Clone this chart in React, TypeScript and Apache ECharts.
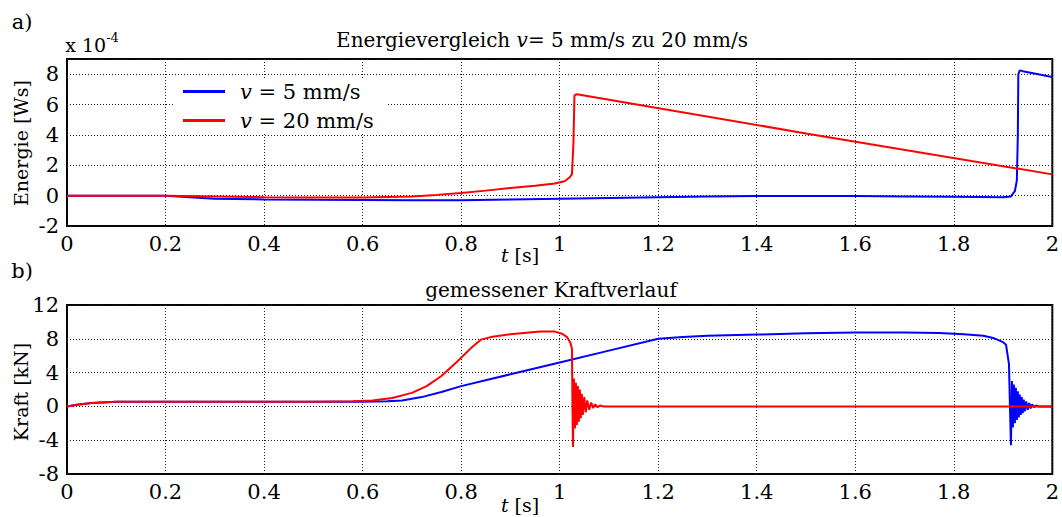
import React, { useEffect, useRef } from 'react';
import * as echarts from 'echarts';

// ---------- data ----------
const seriesNames = ['v = 5 mm/s', 'v = 20 mm/s'];
const panelTitles = ['Energievergleich {i|v}= 5 mm/s zu 20 mm/s', 'gemessener Kraftverlauf'];
const yNames = ['Energie [Ws]', 'Kraft [kN]'];
const panelLetters = ['a)', 'b)'];

// Energie (x 10^-4 Ws) over t [s]
const energyV5: [number, number][] = [
  [0, 0], [0.1, 0], [0.2, 0], [0.25, -0.1], [0.3, -0.2], [0.4, -0.25], [0.5, -0.27],
  [0.6, -0.28], [0.7, -0.3], [0.8, -0.3], [0.9, -0.25], [1.0, -0.2], [1.1, -0.15],
  [1.2, -0.1], [1.3, -0.05], [1.4, -0.02], [1.5, -0.02], [1.6, -0.03], [1.7, -0.05],
  [1.8, -0.08], [1.9, -0.1], [1.916, -0.05], [1.924, 0.3], [1.928, 1.0], [1.93, 4.0],
  [1.931, 8.0], [1.934, 8.25], [1.94, 8.2], [2.0, 7.82],
];
const energyV20: [number, number][] = [
  [0, 0], [0.2, 0], [0.3, -0.05], [0.4, -0.1], [0.5, -0.12], [0.6, -0.12], [0.7, -0.05],
  [0.75, 0.05], [0.8, 0.17], [0.85, 0.33], [0.9, 0.5], [0.95, 0.65], [0.99, 0.8],
  [1.01, 0.95], [1.02, 1.2], [1.025, 1.4], [1.028, 3.5], [1.03, 6.6], [1.035, 6.68],
  [1.5, 4.1], [2.0, 1.4],
];

// Kraft [kN] over t [s]
const forceV5: [number, number][] = [
  [0, 0], [0.02, 0.2], [0.05, 0.4], [0.1, 0.55], [0.3, 0.55], [0.5, 0.55], [0.6, 0.55],
  [0.65, 0.6], [0.68, 0.7], [0.72, 1.1], [0.76, 1.7], [0.8, 2.4], [0.9, 3.8], [1.0, 5.2],
  [1.1, 6.6], [1.2, 8.0], [1.25, 8.2], [1.3, 8.35], [1.4, 8.5], [1.5, 8.65], [1.6, 8.75],
  [1.7, 8.75], [1.77, 8.7], [1.82, 8.55], [1.86, 8.35], [1.88, 8.1], [1.9, 7.6], [1.906, 7.3],
  [1.912, 5.0], [1.914, 0], [1.916, -4.6], [1.918, 3.0], [1.92, -2.5], [1.922, 2.6],
  [1.924, -2.0], [1.926, 2.2], [1.928, -1.6], [1.93, 1.8], [1.932, -1.3], [1.934, 1.4],
  [1.936, -1.0], [1.938, 1.1], [1.94, -0.8], [1.942, 0.8], [1.944, -0.6], [1.947, 0.6],
  [1.95, -0.4], [1.953, 0.4], [1.956, -0.25], [1.959, 0.25], [1.963, -0.1], [1.967, 0.1],
  [1.972, 0], [2.0, 0],
];
const forceV20: [number, number][] = [
  [0, 0], [0.02, 0.2], [0.05, 0.4], [0.1, 0.55], [0.3, 0.55], [0.5, 0.55], [0.58, 0.6],
  [0.62, 0.7], [0.66, 1.0], [0.7, 1.6], [0.73, 2.4], [0.76, 3.6], [0.79, 5.2], [0.82, 6.9],
  [0.84, 7.9], [0.86, 8.2], [0.9, 8.55], [0.96, 8.85], [0.99, 8.85], [1.005, 8.6],
  [1.015, 8.2], [1.022, 7.5], [1.025, 6.8], [1.026, 0], [1.027, -4.8], [1.029, 3.3],
  [1.031, -2.6], [1.033, 2.8], [1.035, -2.2], [1.037, 2.4], [1.039, -1.8], [1.041, 2.0],
  [1.043, -1.4], [1.045, 1.5], [1.047, -1.0], [1.05, 1.1], [1.053, -0.7], [1.056, 0.7],
  [1.06, -0.4], [1.064, 0.45], [1.068, -0.2], [1.072, 0.25], [1.077, -0.1], [1.082, 0.1],
  [1.09, 0], [2.0, 0],
];

const FONT = "'DejaVu Serif', serif";
const BLUE = '#0000ff';
const RED = '#ff0000';

export default function App() {
  const ref = useRef<HTMLDivElement>(null);

  useEffect(() => {
    if (!ref.current) return;
    const chart = echarts.init(ref.current, undefined, { renderer: 'svg' });

    const axisLabel = { color: '#000', fontFamily: FONT, fontSize: 21 };
    const splitLine = { show: true, lineStyle: { color: '#222', type: [1, 2] as any, width: 1 } };

    const xAxisBase = {
      type: 'value' as const,
      min: 0,
      max: 2,
      interval: 0.2,
      axisLine: { show: false },
      axisTick: { show: false },
      splitLine,
      axisLabel: { ...axisLabel, margin: 7, showMinLabel: true, showMaxLabel: true },
    };

    const italicRich = (size: number) => ({
      i: { fontStyle: 'italic', fontFamily: FONT, fontSize: size, fill: '#000', color: '#000' },
      sup: { fontFamily: FONT, fontSize: 13, fill: '#000', color: '#000', verticalAlign: 'top', padding: [0, 0, 16, 0] },
    });

    const textEl = (text: string, x: number, y: number, size: number, extra: any = {}) => ({
      type: 'text',
      x,
      y,
      ...extra,
      style: {
        text,
        fill: '#000',
        fontFamily: FONT,
        fontSize: size,
        align: 'center',
        verticalAlign: 'middle',
        textAlign: 'center',
        textVerticalAlign: 'middle',
        rich: italicRich(size),
      },
    });

    const option: any = {
      animation: false,
      backgroundColor: '#fff',
      grid: [
        { left: 67, right: 9, top: 59, height: 167, show: true, borderColor: '#000', borderWidth: 2, backgroundColor: 'transparent' },
        { left: 67, right: 9, top: 305, height: 169, show: true, borderColor: '#000', borderWidth: 2, backgroundColor: 'transparent' },
      ],
      xAxis: [
        { ...xAxisBase, gridIndex: 0 },
        { ...xAxisBase, gridIndex: 1 },
      ],
      yAxis: [
        {
          type: 'value', gridIndex: 0, min: -2, max: 9, interval: 2,
          axisLine: { show: false }, axisTick: { show: false }, splitLine,
          axisLabel: { ...axisLabel, margin: 8, showMinLabel: true, showMaxLabel: true, formatter: (v: number) => (v > 8.5 ? '' : String(v)) },
        },
        {
          type: 'value', gridIndex: 1, min: -8, max: 12, interval: 4,
          axisLine: { show: false }, axisTick: { show: false }, splitLine,
          axisLabel: { ...axisLabel, margin: 8, showMinLabel: true, showMaxLabel: true },
        },
      ],
      legend: {
        data: seriesNames,
        orient: 'vertical',
        left: 173,
        top: 78,
        backgroundColor: '#fff',
        padding: [3, 14, 3, 10],
        itemWidth: 42,
        itemHeight: 3,
        itemGap: 8,
        icon: 'rect',
        selectedMode: false,
        formatter: (name: string) => name.replace(/^v/, '{i|v}'),
        textStyle: {
          color: '#000',
          fontFamily: FONT,
          fontSize: 21,
          padding: [0, 0, 0, 10],
          rich: { i: { fontStyle: 'italic', fontFamily: FONT, fontSize: 21, color: '#000' } },
        },
      },
      series: [
        { name: seriesNames[0], type: 'line', xAxisIndex: 0, yAxisIndex: 0, data: energyV5, showSymbol: false, color: BLUE, lineStyle: { color: BLUE, width: 2 }, z: 3 },
        { name: seriesNames[1], type: 'line', xAxisIndex: 0, yAxisIndex: 0, data: energyV20, showSymbol: false, color: RED, lineStyle: { color: RED, width: 2 }, z: 4 },
        { name: seriesNames[0], type: 'line', xAxisIndex: 1, yAxisIndex: 1, data: forceV5, showSymbol: false, color: BLUE, lineStyle: { color: BLUE, width: 2 }, z: 3 },
        { name: seriesNames[1], type: 'line', xAxisIndex: 1, yAxisIndex: 1, data: forceV20, showSymbol: false, color: RED, lineStyle: { color: RED, width: 2 }, z: 4 },
      ],
      graphic: [
        textEl(panelLetters[0], 22, 22, 21),
        textEl(panelLetters[1], 22, 271, 21),
        textEl('x 10{sup|-4}', 92, 45, 19),
        textEl(panelTitles[0], 542, 40, 20),
        textEl(panelTitles[1], 551, 290, 20),
        textEl(yNames[0], 21, 143, 19, { rotation: Math.PI / 2 }),
        textEl(yNames[1], 21, 392, 19, { rotation: Math.PI / 2 }),
        textEl('{i|t} [s]', 520, 255, 19),
        textEl('{i|t} [s]', 520, 505, 19),
      ],
    };

    chart.setOption(option);
    return () => chart.dispose();
  }, []);

  return (
    <div
      ref={ref}
      style={{ position: 'absolute', left: 0, top: 0, width: 1062, height: 517, background: '#fff' }}
    />
  );
}
